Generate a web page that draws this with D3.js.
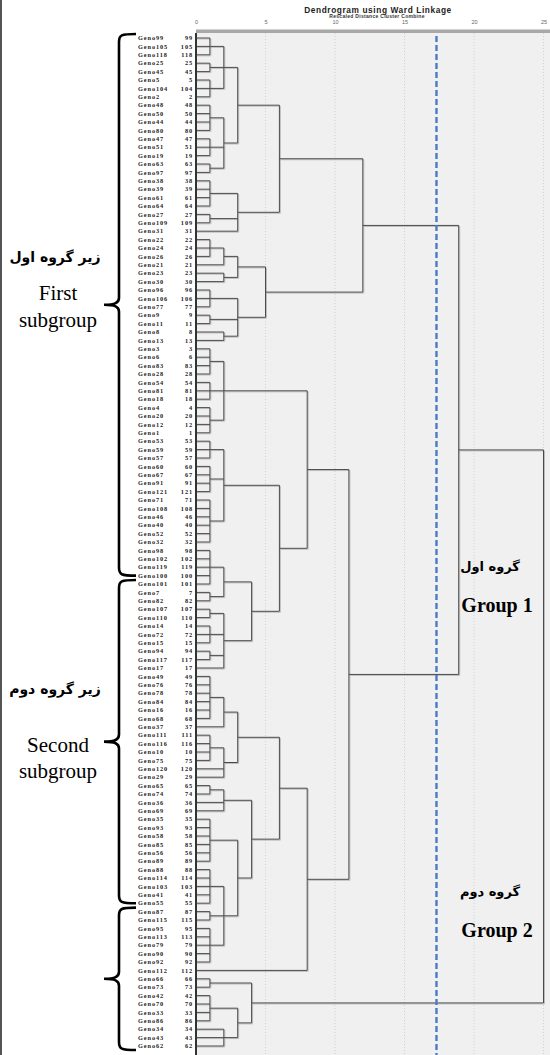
<!DOCTYPE html>
<html>
<head>
<meta charset="utf-8">
<script src="https://cdn.jsdelivr.net/npm/d3@7"></script>
<style>
  body { margin: 0; background: #fff; }
  svg { display: block; }
</style>
</head>
<body>
<svg id="svg" width="550" height="1055"></svg>
<script>
// leaf order, top to bottom (case numbers)
var genotypes = [99,105,118,25,45,5,104,2,48,50,44,80,47,51,19,63,97,38,39,61,
  64,27,109,31,22,24,26,21,23,30,96,106,77,9,11,8,13,3,6,83,
  28,54,81,18,4,20,12,1,53,59,57,60,67,91,121,71,108,46,40,52,
  32,98,102,119,100,101,7,82,107,110,14,72,15,94,117,17,49,76,78,84,
  16,68,37,111,116,10,75,120,29,65,74,36,69,35,93,58,85,56,89,88,
  114,103,41,55,87,115,95,113,79,90,92,112,66,73,42,70,33,86,34,43,62];

// clusters: [first row, last row, rescaled distance]  (rows are 1-based in leaf order)
var clusters = [
  [1,3,1],[4,5,1],[6,8,1],[9,12,1],[13,15,1],[16,17,1],[18,21,1],[22,23,1],
  [25,27,1],[31,33,1],[34,35,1],[38,41,1],[42,44,1],[45,48,1],[49,51,1],[52,55,1],
  [56,61,1],[62,66,1],[67,68,1],[69,70,1],[71,73,1],[74,75,1],[77,82,1],[84,87,1],
  [90,91,1],[94,99,1],[100,104,1],[105,106,1],[107,111,1],[113,114,1],[115,118,1],
  [1,8,2],[9,17,2],[25,28,2],[29,30,2],[36,37,2],[38,48,2],[49,61,2],[62,68,2],
  [69,76,2],[77,83,2],[84,89,2],[90,93,2],[100,111,2],[119,121,2],
  [1,17,3],[18,24,3],[25,30,3],[31,37,3],[77,89,3],[94,111,3],[115,121,3],
  [62,76,4],[90,111,4],[113,121,4],
  [25,37,5],
  [1,24,6],[49,76,6],[77,111,6],
  [38,76,8],[77,112,8],
  [38,112,11],[1,37,12],[1,112,18.9],[1,121,25]
];

var ticks = [0,5,10,15,20,25];
var cutDistance = 17.3;

// braces on the left: [first row, last row]
var braces = [[1,65],[66,104],[105,121]];
var subgroupText = [
  ["زیر گروه اول", "First", "subgroup"],
  ["زیر گروه دوم", "Second", "subgroup"]
];
var groupText = [
  ["گروه اول", "Group 1"],
  ["گروه دوم", "Group 2"]
];

var svg = d3.select("#svg");
var W = 550, H = 1055;

var x = d3.scaleLinear().domain([0,25]).range([196, 543.5]);
var y = d3.scalePoint().domain(genotypes).range([38, 1046]);

// background of plot
svg.append("rect").attr("x", 196).attr("y", 33).attr("width", W-196).attr("height", H-33)
  .attr("fill", "#f0f0f0");
svg.append("rect").attr("x", 196).attr("y", 29.5).attr("width", W-196).attr("height", 3.5)
  .attr("fill", "#a8a8a8");
svg.append("rect").attr("x", 0).attr("y", 0).attr("width", 2).attr("height", H)
  .attr("fill", "#555");

// grid
svg.append("g").selectAll("line").data(ticks.slice(1)).join("line")
  .attr("x1", d => x(d)).attr("x2", d => x(d))
  .attr("y1", 33).attr("y2", H)
  .attr("stroke", "#c9c9c9").attr("stroke-width", 0.8)
  .attr("stroke-dasharray", "1,2");

// titles
svg.append("text").attr("x", 378).attr("y", 12.5).attr("text-anchor", "middle")
  .attr("font-family", "Liberation Sans, Arial, sans-serif").attr("font-weight", "bold")
  .attr("font-size", 8.3).attr("letter-spacing", 0.6).attr("fill", "#222")
  .text("Dendrogram using Ward Linkage");
svg.append("text").attr("x", 377).attr("y", 18.3).attr("text-anchor", "middle")
  .attr("font-family", "Liberation Sans, Arial, sans-serif").attr("font-weight", "bold")
  .attr("font-size", 5).attr("letter-spacing", 0.3).attr("fill", "#333")
  .text("Rescaled Distance Cluster Combine");

// axis
var axis = svg.append("g").attr("transform", "translate(0,25)")
  .call(d3.axisTop(x).tickValues(ticks).tickSize(0).tickPadding(1));
axis.select(".domain").remove();
axis.selectAll("text").attr("font-family", "Liberation Sans, Arial, sans-serif")
  .attr("font-size", 5.5).attr("fill", "#666");

// build tree
var nodes = genotypes.map(function(g, i) {
  return {id: "L" + (i+1), first: i+1, last: i+1, h: 0, name: g};
}).concat(clusters.map(function(c, k) {
  return {id: "C" + k, first: c[0], last: c[1], h: c[2]};
}));
nodes.forEach(function(n) {
  var bestSpan = Infinity;
  clusters.forEach(function(c, k) {
    var span = c[1] - c[0];
    if (c[0] <= n.first && c[1] >= n.last && span > n.last - n.first && span < bestSpan) {
      bestSpan = span;
      n.parent = "C" + k;
    }
  });
});
var root = d3.stratify().id(d => d.id).parentId(d => d.parent)(nodes);
root.eachAfter(function(n) {
  if (!n.children) n.py = y(n.data.name);
  else {
    n.children.sort((a, b) => a.data.first - b.data.first);
    n.py = (n.children[0].py + n.children[n.children.length-1].py) / 2;
  }
});

var segs = [];
root.each(function(n) {
  if (n.parent) segs.push([x(n.data.h), n.py, x(n.parent.data.h), n.py]);
  if (n.children) {
    var c = n.children;
    segs.push([x(n.data.h), c[0].py, x(n.data.h), c[c.length-1].py]);
  }
});

// shadow then line
svg.append("g").attr("transform", "translate(1,1)").selectAll("line").data(segs).join("line")
  .attr("x1", d => d[0]).attr("y1", d => d[1]).attr("x2", d => d[2]).attr("y2", d => d[3])
  .attr("stroke", "#bdbdbd").attr("stroke-width", 1);
svg.append("g").selectAll("line").data(segs).join("line")
  .attr("x1", d => d[0]).attr("y1", d => d[1]).attr("x2", d => d[2]).attr("y2", d => d[3])
  .attr("stroke", "#4a4a4a").attr("stroke-width", 1);

// left axis line
svg.append("line").attr("x1", 196).attr("x2", 196).attr("y1", 33).attr("y2", H)
  .attr("stroke", "#333").attr("stroke-width", 2);

// leaf labels
var labels = svg.append("g").attr("font-family", "Liberation Serif, Times New Roman, serif")
  .attr("font-weight", "bold").attr("font-size", 6.3).attr("fill", "#222");
labels.selectAll(".nm").data(genotypes).join("text").attr("class", "nm")
  .attr("x", 138).attr("y", d => y(d) + 2.2).attr("letter-spacing", 0.9)
  .text(d => "Geno" + d);
labels.selectAll(".no").data(genotypes).join("text").attr("class", "no")
  .attr("x", 193).attr("y", d => y(d) + 2.2).attr("text-anchor", "end").attr("letter-spacing", 0.9)
  .text(d => d);

// cut line
svg.append("line").attr("x1", x(cutDistance)).attr("x2", x(cutDistance)).attr("y1", 36).attr("y2", H)
  .attr("stroke", "#4a7cc4").attr("stroke-width", 2.4).attr("stroke-dasharray", "6,3");

// braces
function bracePath(t, b) {
  var sx = 119, hx = 136, tip = 104, m = (t + b) / 2;
  return "M" + hx + "," + t + " C" + (sx+2) + "," + t + " " + sx + "," + (t+1) + " " + sx + "," + (t+8) +
    " L" + sx + "," + (m-7) + " C" + sx + "," + (m-2) + " " + (sx-4) + "," + m + " " + tip + "," + m +
    " C" + (sx-4) + "," + m + " " + sx + "," + (m+2) + " " + sx + "," + (m+7) +
    " L" + sx + "," + (b-8) + " C" + sx + "," + (b-1) + " " + (sx+2) + "," + b + " " + hx + "," + b;
}
svg.append("g").selectAll("path").data(braces).join("path")
  .attr("d", d => bracePath(y(genotypes[d[0]-1]) - 4, y(genotypes[d[1]-1]) + (d[1] === 121 ? 4 : 0)))
  .attr("fill", "none").attr("stroke", "#000").attr("stroke-width", 2.6);

// subgroup texts
var subY = [[262, 300, 327], [694, 752, 778]];
subgroupText.forEach(function(t, i) {
  svg.append("text").attr("x", 55).attr("y", subY[i][0]).attr("text-anchor", "middle")
    .attr("font-family", "DejaVu Sans, sans-serif").attr("font-weight", "bold")
    .attr("font-size", 14).attr("direction", "rtl").attr("fill", "#000").text(t[0]);
  svg.append("text").attr("x", 58).attr("y", subY[i][1]).attr("text-anchor", "middle")
    .attr("font-family", "Liberation Serif, Times New Roman, serif")
    .attr("font-size", 21).attr("fill", "#000").text(t[1]);
  svg.append("text").attr("x", 58).attr("y", subY[i][2]).attr("text-anchor", "middle")
    .attr("font-family", "Liberation Serif, Times New Roman, serif")
    .attr("font-size", 21).attr("fill", "#000").text(t[2]);
});

// group texts
var grpY = [[571, 612], [896, 937]];
groupText.forEach(function(t, i) {
  svg.append("text").attr("x", 490).attr("y", grpY[i][0]).attr("text-anchor", "middle")
    .attr("font-family", "DejaVu Sans, sans-serif").attr("font-weight", "bold")
    .attr("font-size", 13).attr("direction", "rtl").attr("fill", "#000").text(t[0]);
  svg.append("text").attr("x", 497).attr("y", grpY[i][1]).attr("text-anchor", "middle")
    .attr("font-family", "Liberation Serif, Times New Roman, serif").attr("font-weight", "bold")
    .attr("font-size", 20).attr("fill", "#000").text(t[1]);
});
</script>
</body>
</html>
